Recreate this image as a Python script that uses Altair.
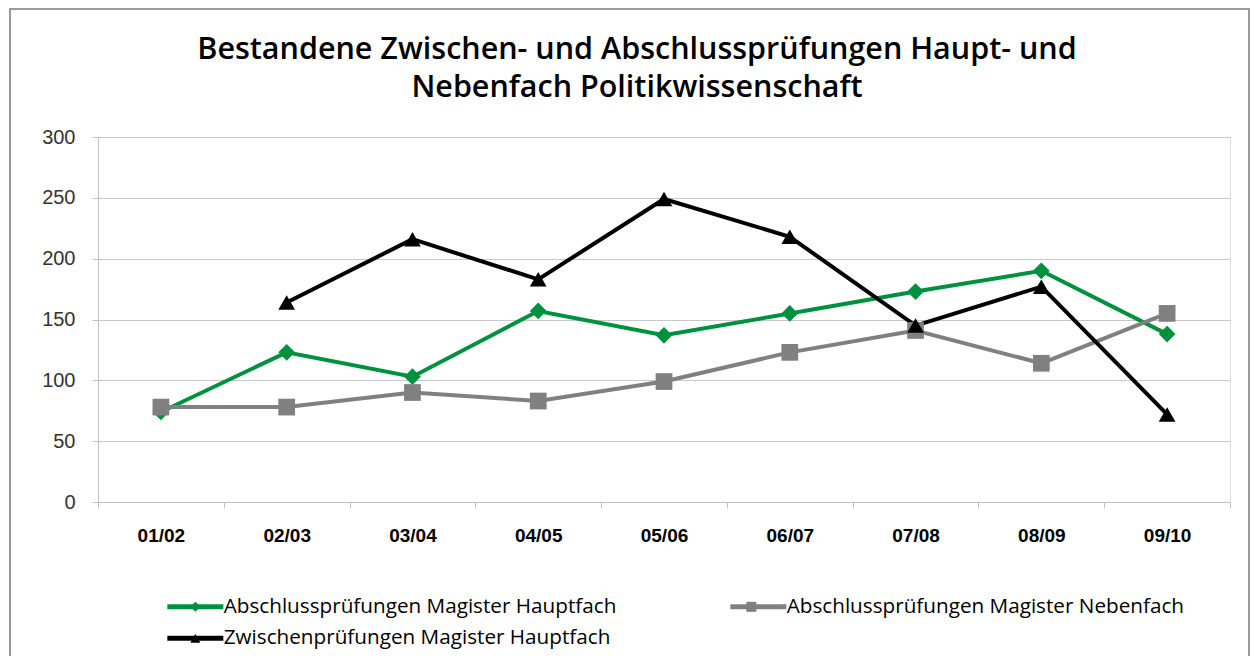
import altair as alt
import pandas as pd

years = ["01/02", "02/03", "03/04", "04/05", "05/06", "06/07", "07/08", "08/09", "09/10"]
abschluss_haupt = [74, 123, 103, 157, 137, 155, 173, 190, 138]
abschluss_neben = [78, 78, 90, 83, 99, 123, 141, 114, 155]
zwischen_haupt = [None, 164, 216, 183, 249, 218, 145, 177, 72]

series_names = [
    "Abschlussprüfungen Magister Hauptfach",
    "Abschlussprüfungen Magister Nebenfach",
    "Zwischenprüfungen Magister Hauptfach",
]
colors = ["#00913f", "#808080", "#000000"]
shapes = ["diamond", "square", "triangle-up"]
y_ticks = [0, 50, 100, 150, 200, 250, 300]

rows = []
for name, vals in zip(series_names, [abschluss_haupt, abschluss_neben, zwischen_haupt]):
    for yr, v in zip(years, vals):
        if v is not None:
            rows.append({"year": yr, "value": v, "series": name, "series_m": name})
df = pd.DataFrame(rows)

LABEL_FONT = "Open Sans"

x_enc = alt.X(
    "year:N",
    sort=years,
    scale=alt.Scale(type="band", paddingInner=0, paddingOuter=0),
    axis=alt.Axis(
        title=None, labelAngle=0, tickBand="extent", grid=False,
        domainColor="#c0c0c0", tickColor="#c0c0c0", tickSize=6,
        labelPadding=18, labelFont="Liberation Sans", labelFontSize=19,
        labelFontWeight="bold", labelColor="#000000",
    ),
)
y_enc = alt.Y(
    "value:Q",
    scale=alt.Scale(domain=[0, 300], nice=False),
    axis=alt.Axis(
        title=None, values=y_ticks, grid=True, gridColor="#c8c8c8",
        domainColor="#c0c0c0", tickColor="#c0c0c0", tickSize=6,
        labelPadding=17, labelFont="Liberation Sans", labelFontSize=20,
        labelColor="#333333",
    ),
)

legend_common = dict(
    orient="none", legendX=64, legendY=459, columns=2, direction="horizontal",
    title=None, labelFont=LABEL_FONT, labelFontSize=20.7, labelColor="#000000",
    labelLimit=0, rowPadding=10, padding=0,
    symbolSize=100, symbolOffset=23, labelOffset=18,
)

base = alt.Chart(df)

lines = base.mark_line(strokeWidth=4).encode(
    x=x_enc,
    y=y_enc,
    stroke=alt.Stroke(
        "series:N",
        scale=alt.Scale(range=colors),
        legend=alt.Legend(
            symbolType="M-5.6,0H5.6", symbolStrokeWidth=5, columnPadding=103,
            **legend_common,
        ),
    ),
)

# marker overlay for the legend entries (labels come from the line legend)
pts_legend = alt.Legend(
    symbolStrokeWidth=0, labelExpr="''", columnPadding=494, **legend_common
)
points = base.mark_point(filled=True, size=280, opacity=1, strokeWidth=0).encode(
    x=x_enc,
    y=y_enc,
    fill=alt.Fill("series_m:N", scale=alt.Scale(range=colors), legend=pts_legend),
    shape=alt.Shape("series_m:N", scale=alt.Scale(range=shapes), legend=pts_legend),
)

frame = alt.Chart(pd.DataFrame({"k": [0]})).mark_rect(
    fill=None, stroke="#9a9a9a", strokeWidth=2
).encode(
    x=alt.value(-88), x2=alt.value(1151), y=alt.value(-128), y2=alt.value(560)
)

chart = alt.layer(frame, lines, points).properties(
    width=1132,
    height=365,
    autosize=alt.AutoSizeParams(type="none"),
    padding={"left": 90, "top": 129, "right": 22, "bottom": 154},
    title=alt.TitleParams(
        text=["Bestandene Zwischen- und Abschlussprüfungen Haupt- und",
              "Nebenfach Politikwissenschaft"],
        font=LABEL_FONT, fontSize=30.5, fontWeight=600, color="#000000",
        lineHeight=38, anchor="middle", frame="group", dx=-27, offset=-95,
    ),
).configure_view(stroke=None).configure(background="white")

chart.save("out.html", embed_options={"renderer": "svg", "actions": False})
